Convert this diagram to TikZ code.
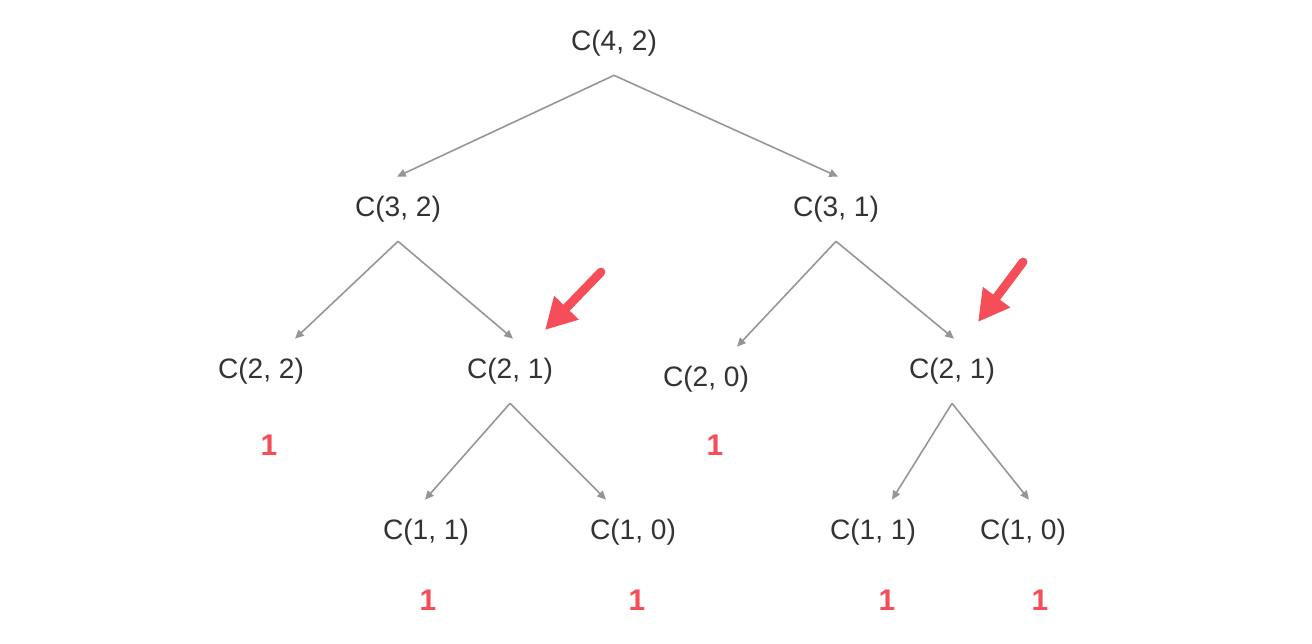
\documentclass[tikz,border=0pt]{standalone}
\usepackage{fontspec}
\setmainfont{Liberation Sans}
\usetikzlibrary{arrows.meta,calc}
\definecolor{textgray}{HTML}{333333}
\definecolor{edgegray}{HTML}{959595}
\definecolor{pointred}{HTML}{F54E58}
\tikzset{
    call/.style = {font = {\fontsize{16}{19}\selectfont}, text = textgray, minimum height = 1.28cm, inner sep = 0pt},
    leaf/.style = {font = {\fontsize{17}{20}\selectfont\bfseries}, text = pointred, inner sep = 0pt},
    edge/.style = {draw = edgegray, line width = 0.9pt, -{Triangle[length = 5pt, width = 4.5pt]}},
    pointer/.style = {draw = pointred, line width = 5pt, line cap = round, -{Triangle[length = 0.62cm, width = 0.64cm]}}
}
\begin{document}
\begin{tikzpicture}[x = 0.02cm, y = -0.02cm]
        \useasboundingbox (0, 0) rectangle (1312, 644);
        \node[call] (c42) at (614, 43) {C(4, 2)};
        \node[call] (c32) at (398, 209) {C(3, 2)};
        \node[call] (c31) at (836, 209) {C(3, 1)};
        \node[call] (c22) at (261, 371) {C(2, 2)};
        \node[call] (c21a) at (510, 371) {C(2, 1)};
        \node[call] (c20) at (706, 379) {C(2, 0)};
        \node[call] (c21b) at (952, 371) {C(2, 1)};
        \node[call] (c11a) at (426, 532) {C(1, 1)};
        \node[call] (c10a) at (633, 532) {C(1, 0)};
        \node[call] (c11b) at (873, 532) {C(1, 1)};
        \node[call] (c10b) at (1023, 532) {C(1, 0)};
        \node[leaf] (v22) at (269, 445) {1};
        \node[leaf] (v20) at (715, 445) {1};
        \node[leaf] (v11a) at (428, 600) {1};
        \node[leaf] (v10a) at (637, 600) {1};
        \node[leaf] (v11b) at (887, 600) {1};
        \node[leaf] (v10b) at (1040, 600) {1};
        \draw[edge] (c42.south) -- ($(c32.north) + (-1, 0)$);
        \draw[edge] (c42.south) -- ($(c31.north) + (2, 0)$);
        \draw[edge] (c32.south) -- ($(c22.north) + (34, 0)$);
        \draw[edge] (c32.south) -- ($(c21a.north) + (3, 0)$);
        \draw[edge] (c31.south) -- ($(c20.north) + (31, 0)$);
        \draw[edge] (c31.south) -- ($(c21b.north) + (2, 0)$);
        \draw[edge] (c21a.south) -- ($(c11a.north) + (-1, 0)$);
        \draw[edge] (c21a.south) -- ($(c10a.north) + (-27, 0)$);
        \draw[edge] (c21b.south) -- ($(c11b.north) + (19, 0)$);
        \draw[edge] (c21b.south) -- ($(c10b.north) + (6, 0)$);
        \coordinate (tailA) at (601, 272);
        \coordinate (tipA) at (545, 330);
        \coordinate (tailB) at (1023, 262);
        \coordinate (tipB) at (978, 322);
        \draw[pointer] (tailA) -- (tipA);
        \draw[pointer] (tailB) -- (tipB);
    \end{tikzpicture}
\end{document}
